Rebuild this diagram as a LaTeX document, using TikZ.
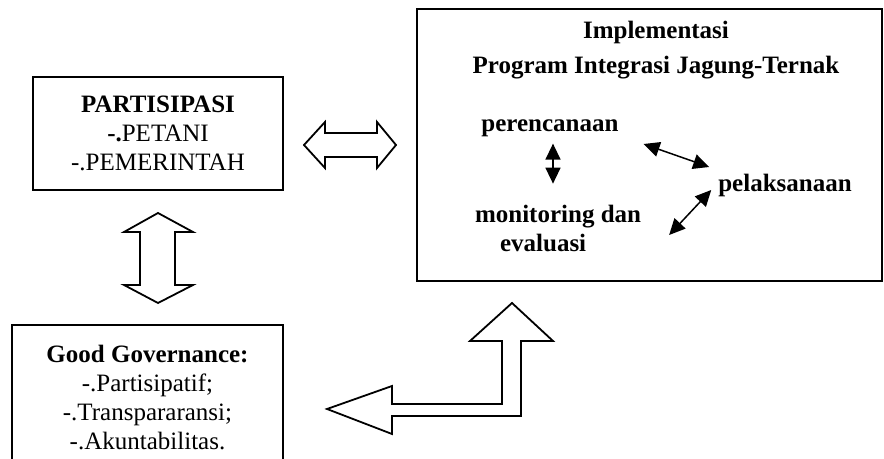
\documentclass[tikz,border=0pt]{standalone}
\usepackage{fontspec}
\setmainfont{Liberation Serif}
\usetikzlibrary{positioning,arrows.meta}

\newcommand{\diagfont}{\fontsize{12.5}{14.5}\selectfont}
\tikzset{
  box/.style={draw, line width=1pt, align=center, inner sep=0pt},
  lbl/.style={font=\diagfont\bfseries, align=center},
  dbl/.style={{Triangle[length=8pt,width=7.5pt]}-{Triangle[length=8pt,width=7.5pt]}, line width=0.75pt},
  blockarrow/.style={draw, line width=0.9pt, fill=white, line join=miter},
}

\begin{document}
\begin{tikzpicture}[x=0.5pt,y=-0.5pt,font=\diagfont]
\clip (0,0) rectangle (884,459);

% boxes
\node[box, minimum width=125pt, minimum height=56.5pt] (partisipasi) at (158,133.5)
  {\textbf{PARTISIPASI}\\\textbf{-.}PETANI\\-.PEMERINTAH};
\node[box, minimum width=232.5pt, minimum height=136pt] (impl) at (649.5,145) {};
\node[box, minimum width=135.5pt, minimum height=72.5pt] (governance) at (147.5,397.5)
  {\textbf{Good Governance:}\\-.Partisipatif;\\-.Transpararansi;\\-.Akuntabilitas.};

% inside the implementation box
\node[lbl] (title) at (656,50) {Implementasi\\[3pt]Program Integrasi Jagung-Ternak};
\node[lbl] (pere) at (550,128) {perencanaan};
\node[lbl] (plak) at (785,185) {pelaksanaan};
\node[lbl, anchor=west, align=left] (moni) at (468,228.5) {monitoring dan\\\hspace*{12.5pt}evaluasi};

\draw[dbl] ([xshift=1.5pt]pere.south) -- ++(0,40);
\draw[dbl] ([shift={(18,16)}]pere.east) -- ([shift={(-2,-18)}]plak.west);
\draw[dbl] ([shift={(21,6.5)}]moni.east) -- ([shift={(0,5)}]plak.west);

% block arrows
\draw[blockarrow] (304,145) -- (325,122) -- (325,133) -- (377,133) -- (377,122) -- (396,145)
  -- (377,168) -- (377,157) -- (325,157) -- (325,168) -- cycle;
\draw[blockarrow] (158,213) -- (193,232) -- (175,232) -- (175,285) -- (193,285) -- (158,303)
  -- (124,285) -- (140,285) -- (140,232) -- (124,232) -- cycle;
\draw[blockarrow] (327,409) -- (392,386) -- (392,404) -- (502,404) -- (502,341) -- (470,341)
  -- (512,303) -- (553,341) -- (521,341) -- (521,416) -- (392,416) -- (392,434) -- cycle;
\end{tikzpicture}
\end{document}
